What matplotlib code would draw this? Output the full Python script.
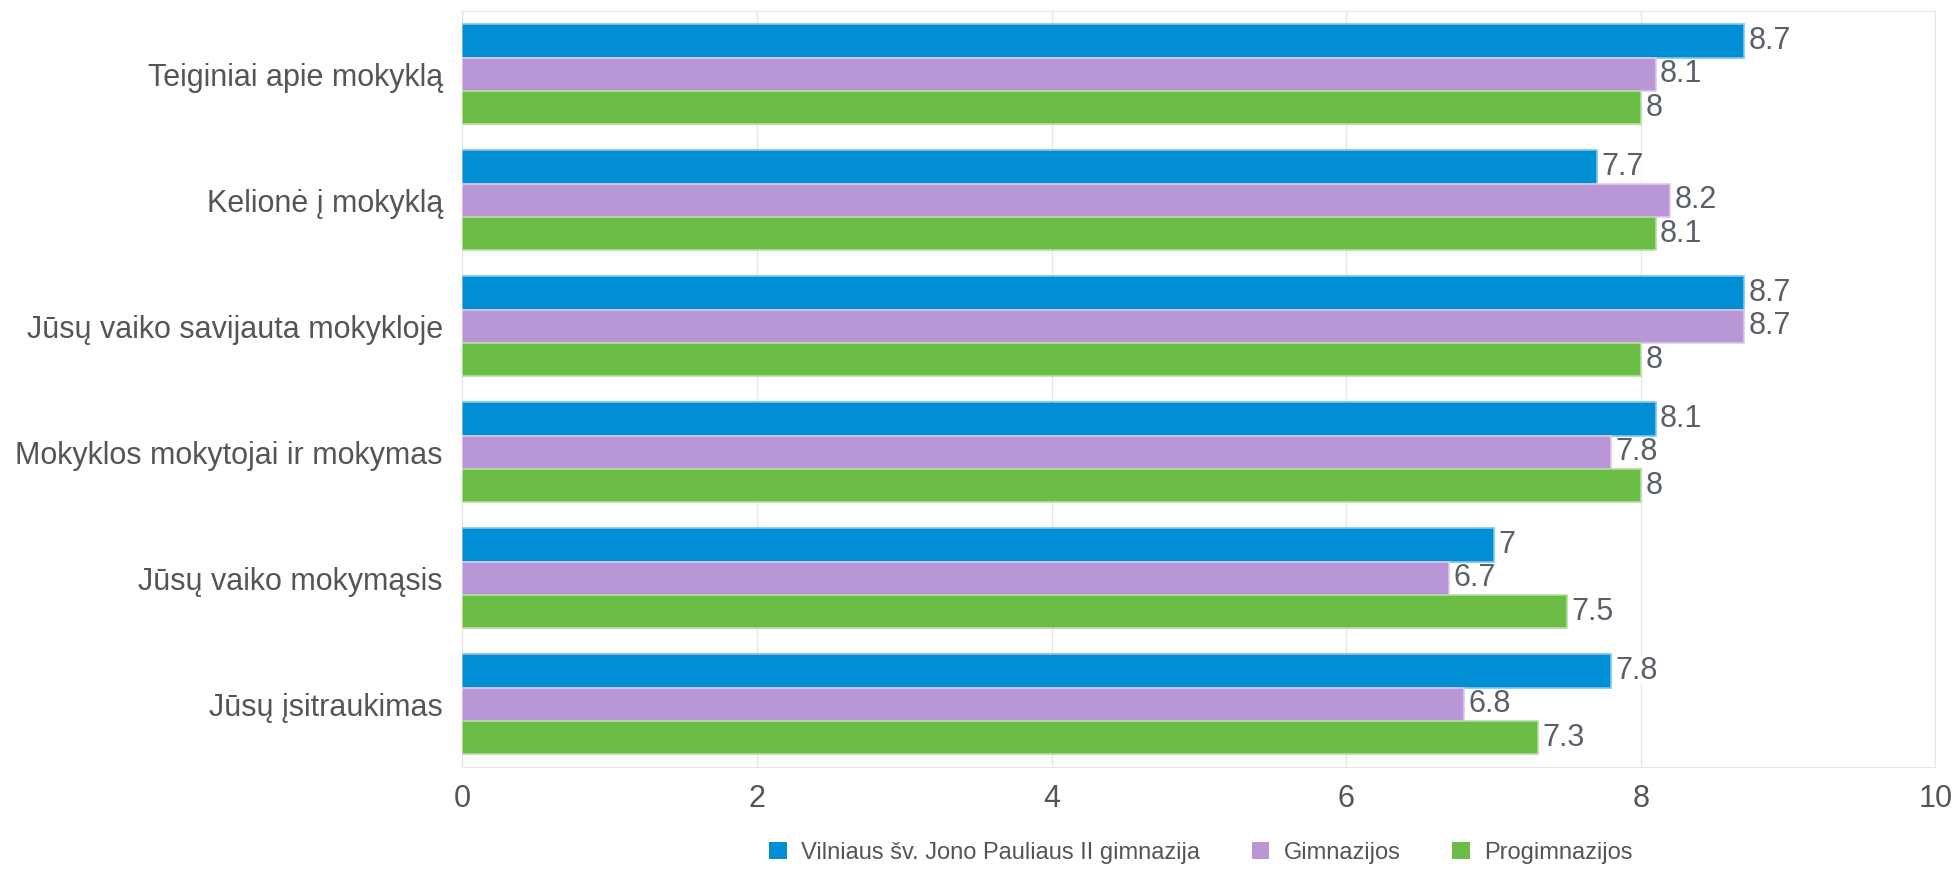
import numpy as np
import matplotlib.pyplot as plt
from matplotlib.patches import Patch

categories = ['Teiginiai apie mokyklą', 'Kelionė į mokyklą', 'Jūsų vaiko savijauta mokykloje',
              'Mokyklos mokytojai ir mokymas', 'Jūsų vaiko mokymąsis', 'Jūsų įsitraukimas']
series_names = ['Vilniaus šv. Jono Pauliaus II gimnazija', 'Gimnazijos', 'Progimnazijos']
school = [8.7, 7.7, 8.7, 8.1, 7.0, 7.8]
gimnazijos = [8.1, 8.2, 8.7, 7.8, 6.7, 6.8]
progimnazijos = [8.0, 8.1, 8.0, 8.0, 7.5, 7.3]
xticks = [0, 2, 4, 6, 8, 10]

colors = ['#008fd5', '#b996d5', '#6bbd45']
edges = ['#7fc6ea', '#dccaea', '#b5dea2']

plt.rcParams['font.family'] = ['Liberation Sans', 'DejaVu Sans']

fig = plt.figure(figsize=(19.59, 8.72), dpi=100)
ax = fig.add_axes([0.236, 0.12, 0.752, 0.867])

y = np.arange(len(categories))
h = 0.265
for i, vals in enumerate([school, gimnazijos, progimnazijos]):
    pos = y + (i - 1) * h
    ax.barh(pos, vals, height=h, color=colors[i], edgecolor=edges[i], linewidth=1.2, zorder=3)
    for p, v in zip(pos, vals):
        lab = f'{v:g}'
        ax.text(v + 0.03, p, lab, va='center', ha='left', fontsize=22, color='#5a606a', zorder=4,
                bbox=dict(facecolor='white', edgecolor='none', pad=0.3, alpha=0.8))

ax.set_ylim(len(categories) - 0.5, -0.5)
ax.set_xlim(0, 10)
ax.set_xticks(xticks)
ax.set_xticklabels([str(t) for t in xticks])
ax.set_yticks(y)
ax.set_yticklabels(categories)
ax.tick_params(axis='both', length=0, labelsize=22, labelcolor='#555555')
ax.tick_params(axis='x', pad=12)
ax.tick_params(axis='y', pad=14)
ax.grid(axis='x', color='#e6e6e6', linewidth=1, zorder=0)
for s in ax.spines.values():
    s.set_color('#e6e6e6')

handles = [Patch(facecolor=c, edgecolor='none') for c in colors]
fig.legend(handles, series_names, loc='lower center', bbox_to_anchor=(0.613, -0.015), ncol=3,
           frameon=False, fontsize=17, handlelength=0.75, handleheight=0.75, columnspacing=2.2,
           handletextpad=0.6, labelcolor='#555555')

fig.savefig('out.png', dpi=100)
